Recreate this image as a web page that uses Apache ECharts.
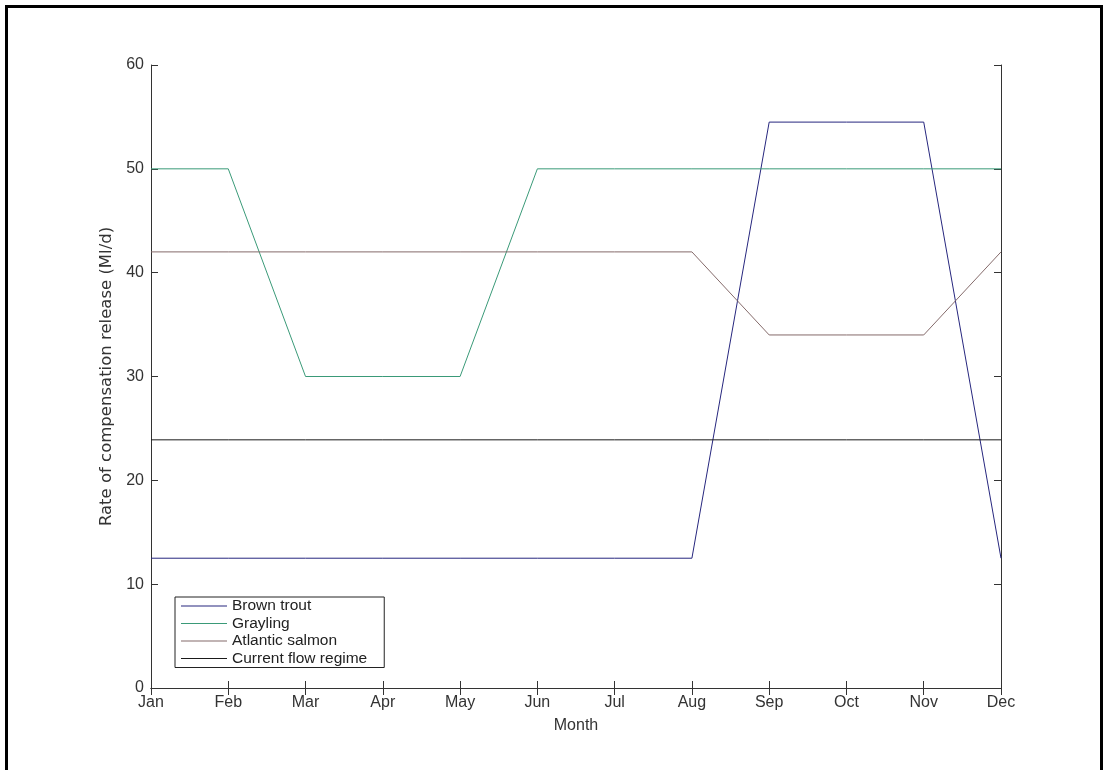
<!DOCTYPE html>
<html><head><meta charset="utf-8">
<script src="https://cdn.jsdelivr.net/npm/echarts@6/dist/echarts.min.js"></script>
<style>
html,body{margin:0;padding:0;background:#fff;overflow:hidden}
#frame{position:absolute;left:5px;top:5px;width:1092px;height:800px;border:3px solid #000;box-sizing:content-box}
#c{position:absolute;left:0;top:0;width:1105px;height:770px}
</style></head>
<body>
<div id="frame"></div>
<div id="c"></div>
<script>
const months = ['Jan','Feb','Mar','Apr','May','Jun','Jul','Aug','Sep','Oct','Nov','Dec'];
const brownTrout = [12.5,12.5,12.5,12.5,12.5,12.5,12.5,12.5,54.5,54.5,54.5,12.5];
const grayling = [50,50,30,30,30,50,50,50,50,50,50,50];
const atlanticSalmon = [42,42,42,42,42,42,42,42,34,34,34,42];
const currentFlow = [23.9,23.9,23.9,23.9,23.9,23.9,23.9,23.9,23.9,23.9,23.9,23.9];
const seriesNames = ['Brown trout','Grayling','Atlantic salmon','Current flow regime'];
const yTicks = [0,10,20,30,40,50,60];

const chart = echarts.init(document.getElementById('c'), null, {renderer:'canvas'});
const font = 'Liberation Sans, Arial, sans-serif';
const axisLine = {show:true, lineStyle:{color:'#333', width:1}};
const tickIn = {show:true, inside:true, length:7, lineStyle:{color:'#333'}};
function mk(name, data, color){
  return {name, type:'line', data, symbol:'none', xAxisIndex:0, yAxisIndex:0,
    lineStyle:{color, width:1}, itemStyle:{color}, emphasis:{disabled:true}, animation:false};
}
chart.setOption({
  animation:false,
  backgroundColor:'transparent',
  grid:{left:151, right:104, top:65, bottom:82, show:false},
  legend:{
    orient:'vertical', left:175, top:597, data:seriesNames,
    icon:'rect', itemWidth:46, itemHeight:1, itemGap:1.5,
    padding:[1,17,1,6],
    borderColor:'#222', borderWidth:1, backgroundColor:'#fff',
    textStyle:{fontFamily:font, fontSize:15.5, color:'#222', lineHeight:16},
    selectedMode:false
  },
  xAxis:[
    {type:'category', data:months, boundaryGap:false, position:'bottom',
      axisLine, axisTick:Object.assign({alignWithLabel:true}, tickIn),
      axisLabel:{fontFamily:font, fontSize:16, color:'#333', margin:7},
      splitLine:{show:false},
      name:'Month', nameLocation:'middle', nameGap:30,
      nameTextStyle:{fontFamily:font, fontSize:16, color:'#333'}},
    {type:'category', data:months, boundaryGap:false, position:'top',
      axisLine, axisTick:tickIn, axisLabel:{show:false}, splitLine:{show:false}}
  ],
  yAxis:[
    {type:'value', min:yTicks[0], max:yTicks[yTicks.length-1], interval:10, position:'left',
      axisLine, axisTick:tickIn,
      axisLabel:{fontFamily:font, fontSize:16, color:'#333', margin:7},
      splitLine:{show:false},
      name:'Rate of compensation release (Ml/d)', nameLocation:'middle', nameGap:29,
      nameTextStyle:{fontFamily:'DejaVu Sans, sans-serif', fontSize:16.5, color:'#333'}},
    {type:'value', min:yTicks[0], max:yTicks[yTicks.length-1], interval:10, position:'right',
      axisLine, axisTick:tickIn, axisLabel:{show:false}, splitLine:{show:false}}
  ],
  series:[
    mk(seriesNames[0], brownTrout, '#26267e'),
    mk(seriesNames[1], grayling, '#3a9a78'),
    mk(seriesNames[2], atlanticSalmon, '#846a6a'),
    mk(seriesNames[3], currentFlow, '#1a1a1a')
  ]
});
</script>
</body></html>
